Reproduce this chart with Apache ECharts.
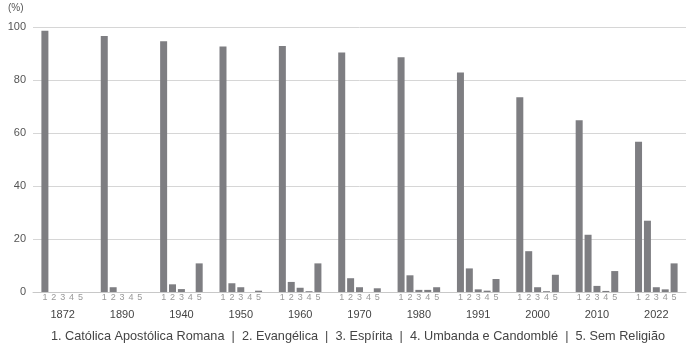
<!DOCTYPE html>
<html>
<head>
<meta charset="utf-8">
<script src="https://cdn.jsdelivr.net/npm/echarts@6/dist/echarts.min.js"></script>
<style>html,body{margin:0;padding:0;background:#fff}#c{width:699px;height:351px}</style>
</head>
<body>
<div id="c"></div>
<script>
const years = ['1872','1890','1940','1950','1960','1970','1980','1991','2000','2010','2022'];
const catolica   = [98.6, 96.6, 94.6, 92.6, 92.8, 90.4, 88.6, 82.8, 73.5, 64.8, 56.7];
const evangelica = [0, 1.8, 2.9, 3.3, 3.8, 5.2, 6.3, 8.9, 15.4, 21.6, 26.9];
const espirita   = [0, 0, 1.1, 1.8, 1.6, 1.8, 0.8, 1.0, 1.8, 2.3, 1.8];
const umbanda    = [0, 0, 0, 0, 0.3, 0, 0.8, 0.5, 0.3, 0.4, 1.0];
const semReligiao= [0, 0, 10.8, 0.5, 10.8, 1.4, 1.8, 4.9, 6.5, 7.9, 10.8];
const seriesData = [catolica, evangelica, espirita, umbanda, semReligiao];
const seriesNames = ['1','2','3','4','5'];
const yTicks = [0, 20, 40, 60, 80, 100];
const legendText = '1. Católica Apostólica Romana  |  2. Evangélica  |  3. Espírita  |  4. Umbanda e Candomblé  |  5. Sem Religião';

const chart = echarts.init(document.getElementById('c'));
const font = 'Liberation Sans, Arial, sans-serif';
chart.setOption({
  animation: false,
  textStyle: { fontFamily: font },
  grid: { left: 33, right: 13, top: 27, bottom: 59 },
  xAxis: {
    type: 'category',
    data: years,
    axisLine: { lineStyle: { color: '#c8c8c8' } },
    axisTick: { show: false },
    axisLabel: { color: '#444', fontSize: 11, margin: 17, fontFamily: font }
  },
  yAxis: {
    type: 'value',
    min: yTicks[0], max: yTicks[yTicks.length - 1], interval: 20,
    axisLine: { show: false },
    axisTick: { show: false },
    axisLabel: { color: '#555', fontSize: 11, margin: 7, fontFamily: font },
    splitLine: { lineStyle: { color: '#d6d6d6' } }
  },
  graphic: [
    { type: 'text', left: 8, top: 3, style: { text: '(%)', fill: '#555', fontSize: 10, fontFamily: font } },
    { type: 'text', left: 51, top: 330, style: { text: legendText, fill: '#444', fontSize: 12.7, fontFamily: font } }
  ],
  series: seriesData.map((d, i) => ({
    type: 'bar',
    name: seriesNames[i],
    data: d,
    barWidth: 7,
    barGap: '27%',
    itemStyle: { color: '#7e7e82' },
    label: {
      show: true,
      position: 'bottom',
      distance: 1,
      formatter: seriesNames[i],
      color: '#999',
      fontSize: 9,
      fontFamily: font
    }
  }))
});
</script>
</body>
</html>
